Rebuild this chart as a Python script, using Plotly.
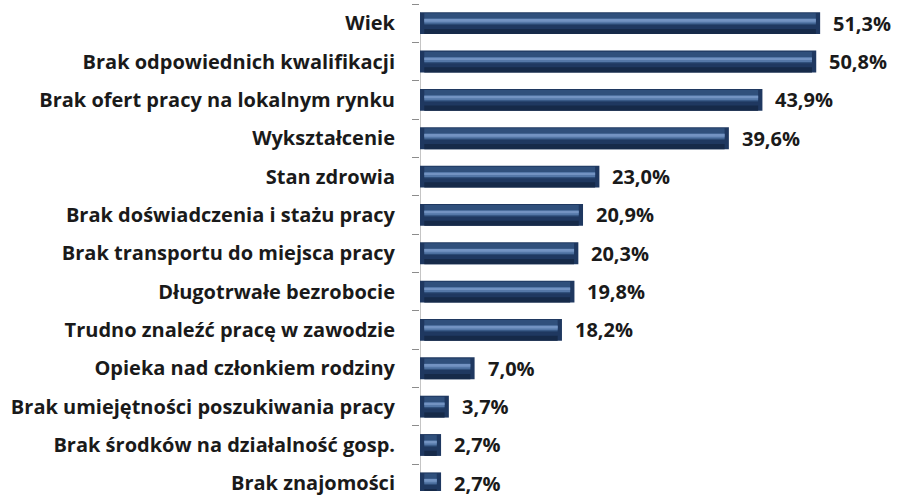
import plotly.graph_objects as go

# Survey: barriers to finding employment (% of respondents)
categories = [
    "Wiek",
    "Brak odpowiednich kwalifikacji",
    "Brak ofert pracy na lokalnym rynku",
    "Wykształcenie",
    "Stan zdrowia",
    "Brak doświadczenia i stażu pracy",
    "Brak transportu do miejsca pracy",
    "Długotrwałe bezrobocie",
    "Trudno znaleźć pracę w zawodzie",
    "Opieka nad członkiem rodziny",
    "Brak umiejętności poszukiwania pracy",
    "Brak środków na działalność gosp.",
    "Brak znajomości",
]
values = [51.3, 50.8, 43.9, 39.6, 23.0, 20.9, 20.3, 19.8, 18.2, 7.0, 3.7, 2.7, 2.7]

FONT = "Open Sans"
TEXT = "#1a1a1a"
AXIS = "#8c8c8c"
BAR_W = 0.57
INSET = 0.55  # bevel inset at bar ends, in axis units
Y_RANGE = [12.2, -0.5]

fig = go.Figure()

# Bevelled bar look: a dark base plus lighter/darker horizontal bands layered on top
layers = [
    # (offset, width, colour, inset)
    (-BAR_W / 2, BAR_W, "#1f3860", 0.0),
    (-0.258, 0.30, "#30507c", INSET),
    (-0.12, 0.13, "#5578a8", INSET),
    (-0.09, 0.05, "#7393c2", INSET),
    (0.15, 0.135, "#162a49", INSET),
]
for off, w, col, ins in layers:
    fig.add_trace(go.Bar(
        y=categories,
        x=[max(v - 2 * ins, 0) for v in values],
        base=[min(ins, v / 2) for v in values],
        orientation="h",
        width=w,
        offset=off,
        marker=dict(color=col, line=dict(width=0)),
        hoverinfo="skip",
        showlegend=False,
    ))

# Value labels to the right of each bar
for cat, v in zip(categories, values):
    fig.add_annotation(
        x=v, y=cat, xref="x", yref="y",
        text=f"{v:.1f}%".replace(".", ","),
        showarrow=False, xanchor="left", yanchor="middle",
        xshift=11,
        font=dict(family=FONT, size=20, color=TEXT, weight="bold"),
    )

# Category axis line, starting at the top edge of the first bar
fig.add_shape(
    type="line", xref="x", yref="y",
    x0=0, x1=0, y0=-BAR_W / 2, y1=Y_RANGE[0],
    line=dict(color=AXIS, width=1),
    layer="below",
)

fig.update_layout(
    width=897, height=496,
    margin=dict(l=420, r=9, t=4, b=0),
    paper_bgcolor="white", plot_bgcolor="white",
    barmode="overlay",
    xaxis=dict(range=[0, 60], showgrid=False, zeroline=False,
               showticklabels=False, showline=False, ticks=""),
    yaxis=dict(
        type="category",
        range=Y_RANGE,
        showgrid=False, zeroline=False,
        showline=False,
        ticks="outside", tickson="boundaries", ticklen=7,
        tickcolor=AXIS, tickwidth=1,
        ticklabelstandoff=24,
        tickfont=dict(family=FONT, size=20, color=TEXT, weight="bold"),
    ),
)

fig.write_html("out.html")
